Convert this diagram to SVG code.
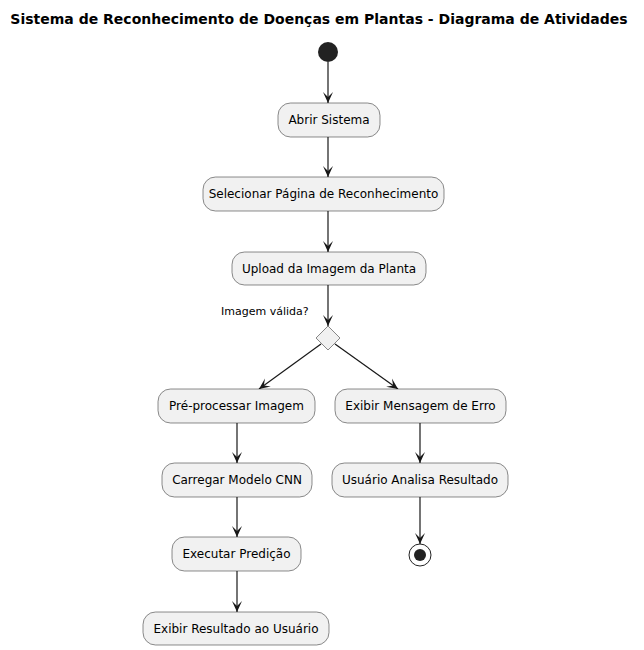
<svg xmlns="http://www.w3.org/2000/svg" width="644" height="650" viewBox="0 0 644 650">
<defs>
<style>
.box{fill:#F1F1F1;stroke:#181818;stroke-width:0.5}
.t{font-family:"DejaVu Sans",sans-serif;font-size:12px;fill:#000;text-anchor:middle}
.lbl{font-family:"DejaVu Sans",sans-serif;font-size:11px;fill:#000}
.title{font-family:"DejaVu Sans",sans-serif;font-size:14px;font-weight:bold;fill:#000;text-anchor:middle}
.c{stroke:#181818;stroke-width:1.2;fill:none;marker-end:url(#ah)}
</style>
<marker id="ah" viewBox="-12 -6 13 12" markerWidth="13" markerHeight="12" refX="0" refY="0" orient="auto" markerUnits="userSpaceOnUse">
<path d="M0,0 L-11,-5 L-6,0 L-11,5 Z" fill="#181818"/>
</marker>
</defs>
<rect width="644" height="650" fill="#FFFFFF"/>
<text class="title" x="319" y="24">Sistema de Reconhecimento de Doenças em Plantas - Diagrama de Atividades</text>

<g id="connectors">
<line class="c" x1="328" y1="62" x2="328" y2="103"/>
<line class="c" x1="328" y1="137" x2="328" y2="177"/>
<line class="c" x1="328" y1="211" x2="328" y2="252"/>
<line class="c" x1="328" y1="285" x2="328" y2="326"/>
<line class="c" x1="321" y1="344" x2="259" y2="389"/>
<line class="c" x1="335" y1="344" x2="398" y2="389"/>
<line class="c" x1="237" y1="423" x2="237" y2="463"/>
<line class="c" x1="237" y1="497" x2="237" y2="537"/>
<line class="c" x1="237" y1="571" x2="237" y2="612"/>
<line class="c" x1="420" y1="423" x2="420" y2="463"/>
<line class="c" x1="420" y1="497" x2="420" y2="544"/>
</g>

<g id="start"><circle cx="328" cy="52" r="10" fill="#222222"/></g>

<g id="abrir"><rect class="box" x="278" y="103" width="102" height="34" rx="12.5"/><text class="t" x="329" y="124">Abrir Sistema</text></g>
<g id="selecionar"><rect class="box" x="203" y="177" width="241" height="34" rx="12.5"/><text class="t" x="323.5" y="198">Selecionar Página de Reconhecimento</text></g>
<g id="upload"><rect class="box" x="232" y="252" width="194" height="33" rx="12.5"/><text class="t" x="329" y="273">Upload da Imagem da Planta</text></g>

<g id="decisao">
<polygon points="328,326 340,338 328,350 316,338" fill="#F1F1F1" stroke="#181818" stroke-width="0.5"/>
<text class="lbl" x="221" y="315">Imagem válida?</text>
</g>

<g id="preprocessar"><rect class="box" x="158" y="389" width="157" height="34" rx="12.5"/><text class="t" x="236.5" y="410">Pré-processar Imagem</text></g>
<g id="erro"><rect class="box" x="335" y="389" width="171" height="34" rx="12.5"/><text class="t" x="420.5" y="410">Exibir Mensagem de Erro</text></g>
<g id="carregar"><rect class="box" x="162" y="463" width="150" height="34" rx="12.5"/><text class="t" x="237" y="484">Carregar Modelo CNN</text></g>
<g id="analisa"><rect class="box" x="332" y="463" width="176" height="34" rx="12.5"/><text class="t" x="420" y="484">Usuário Analisa Resultado</text></g>
<g id="executar"><rect class="box" x="172" y="537" width="129" height="34" rx="12.5"/><text class="t" x="236.5" y="558">Executar Predição</text></g>
<g id="exibir"><rect class="box" x="143" y="612" width="186" height="33" rx="12.5"/><text class="t" x="236" y="633">Exibir Resultado ao Usuário</text></g>

<g id="end">
<circle cx="420" cy="555" r="11" fill="none" stroke="#222222" stroke-width="1"/>
<circle cx="420" cy="555" r="6" fill="#222222"/>
</g>
</svg>
